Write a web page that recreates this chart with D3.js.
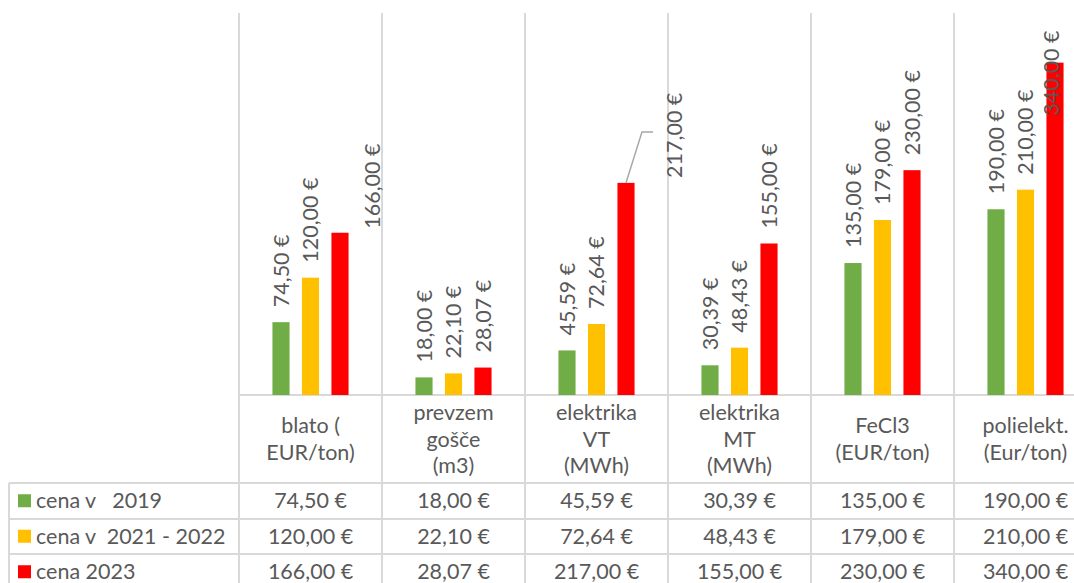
<!DOCTYPE html>
<head>
<meta charset="utf-8">
<script src="https://d3js.org/d3.v7.min.js"></script>
<style>
  body { margin: 0; background: #fff; font-family: Lato, "Open Sans", sans-serif; }
  svg text { fill: #595959; font-size: 21.5px; }
  .grid { stroke: #d9d9d9; stroke-width: 2; shape-rendering: crispEdges; }
</style>
</head>
<body>
<div id="chart"></div>
</body>
<script>
// data
var categories = [
  ["blato (", "EUR/ton)"],
  ["prevzem", "gošče", "(m3)"],
  ["elektrika", "VT", "(MWh)"],
  ["elektrika", "MT", "(MWh)"],
  ["FeCl3", "(EUR/ton)"],
  ["polielekt.", "(Eur/ton)"]
];
var seriesNames = ["cena v   2019", "cena v  2021 - 2022", "cena 2023"];
var cena2019 = [74.50, 18.00, 45.59, 30.39, 135.00, 190.00];
var cena2021 = [120.00, 22.10, 72.64, 48.43, 179.00, 210.00];
var cena2023 = [166.00, 28.07, 217.00, 155.00, 230.00, 340.00];
var seriesValues = [cena2019, cena2021, cena2023];
var colors = ["#70ad47", "#ffc000", "#ff0000"];

var W = 1074, H = 583;
var colW = 143, left = 239, base = 395, tableTop = 483, rowH = 35.5;

var locale = d3.formatLocale({decimal: ",", thousands: ".", grouping: [3], currency: ["", " €"]});
var fmt = locale.format("$.2f");

var svg = d3.select("#chart").append("svg").attr("width", W).attr("height", H);

var x0 = d3.scaleBand().domain(d3.range(categories.length))
  .range([left, left + colW * categories.length]);
var x1 = d3.scaleBand().domain(d3.range(seriesNames.length))
  .range([x0.bandwidth() / 2 - 44.25, x0.bandwidth() / 2 + 44.25])
  .paddingInner(0.42).paddingOuter(0.21);
var y = d3.scaleLinear().domain([0, 400]).range([base, 4]);

// grid / table lines
var g = svg.append("g");
d3.range(categories.length + 1).forEach(function(i) {
  g.append("line").attr("class", "grid")
    .attr("x1", left + i * colW).attr("x2", left + i * colW)
    .attr("y1", 13).attr("y2", H);
});
g.append("line").attr("class", "grid").attr("x1", left).attr("x2", W).attr("y1", base).attr("y2", base);
d3.range(seriesNames.length).forEach(function(i) {
  g.append("line").attr("class", "grid")
    .attr("x1", 9).attr("x2", W)
    .attr("y1", tableTop + i * rowH).attr("y2", tableTop + i * rowH);
});
g.append("line").attr("class", "grid").attr("x1", 9).attr("x2", 9).attr("y1", tableTop).attr("y2", H);

// bars
var cats = svg.append("g").selectAll("g").data(categories).enter().append("g")
  .attr("transform", function(d, i) { return "translate(" + x0(i) + ",0)"; });

cats.selectAll("rect")
  .data(function(d, i) { return seriesValues.map(function(s, j) { return {s: j, v: s[i], c: i}; }); })
  .enter().append("rect")
  .attr("x", function(d) { return x1(d.s); })
  .attr("y", function(d) { return y(d.v); })
  .attr("width", x1.bandwidth())
  .attr("height", function(d) { return base - y(d.v); })
  .attr("fill", function(d) { return colors[d.s]; });

// manually moved labels (dx, dy from default position)
var moved = {"0-2": [32, 11], "2-2": [48, 10], "5-2": [-3.5, 68]};

cats.selectAll("text.lbl")
  .data(function(d, i) { return seriesValues.map(function(s, j) { return {s: j, v: s[i], c: i}; }); })
  .enter().append("text")
  .attr("class", "lbl")
  .attr("transform", function(d) {
    var m = moved[d.c + "-" + d.s] || [0, 0];
    var cx = x1(d.s) + x1.bandwidth() / 2 + m[0];
    var cy = y(d.v) - 15 + m[1];
    return "translate(" + cx + "," + cy + ") rotate(-90)";
  })
  .attr("dy", "0.35em")
  .text(function(d) { return fmt(d.v); });

// leader line for 217
var lx = x0(2) + x1(2) + x1.bandwidth() / 2;
svg.append("polyline")
  .attr("points", [[lx, y(cena2023[2])], [lx + 16, y(cena2023[2]) - 51], [lx + 27, y(cena2023[2]) - 51]].join(" "))
  .attr("fill", "none").attr("stroke", "#a6a6a6").attr("stroke-width", 1.5);

// category header cells
cats.append("text")
  .attr("text-anchor", "middle")
  .each(function(d) {
    var t = d3.select(this);
    var lh = 26.5, y0 = (base + tableTop) / 2 - (d.length - 1) * lh / 2;
    d.forEach(function(line, k) {
      t.append("tspan").attr("x", colW / 2).attr("y", y0 + k * lh).attr("dy", "0.35em").text(line);
    });
  });

// table rows
seriesNames.forEach(function(name, j) {
  var cy = tableTop + j * rowH + rowH / 2;
  svg.append("rect").attr("x", 18).attr("y", cy - 6.5).attr("width", 13).attr("height", 13).attr("fill", colors[j]);
  svg.append("text").attr("x", 36).attr("y", cy).attr("dy", "0.35em")
    .style("white-space", "pre").attr("xml:space", "preserve")
    .text(name);
  seriesValues[j].forEach(function(v, i) {
    svg.append("text").attr("x", x0(i) + colW / 2).attr("y", cy).attr("dy", "0.35em")
      .attr("text-anchor", "middle")
      .text(fmt(v));
  });
});
</script>
